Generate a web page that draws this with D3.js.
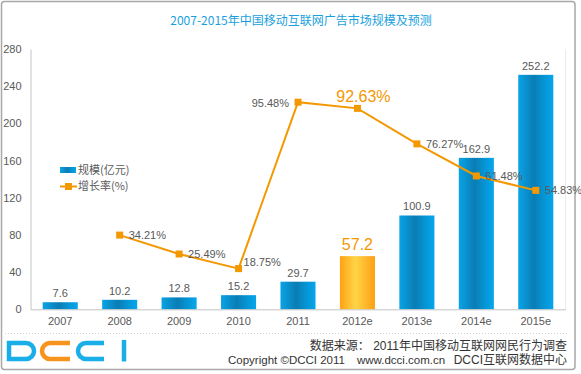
<!DOCTYPE html>
<html><head><meta charset="utf-8">
<script src="https://cdn.jsdelivr.net/npm/d3@7/dist/d3.min.js"></script>
<style>
html,body{margin:0;padding:0;background:#fff;}
svg{display:block;font-family:"Liberation Sans","Noto Sans CJK SC",sans-serif;}
</style></head>
<body>
<svg id="c" width="581" height="374"></svg>
<script>
const categories = ["2007","2008","2009","2010","2011","2012e","2013e","2014e","2015e"];
const scaleValues = [7.6,10.2,12.8,15.2,29.7,57.2,100.9,162.9,252.2];
const growthValues = [null,34.21,25.49,18.75,95.48,92.63,76.27,61.48,54.83];
const yTicks = [0,40,80,120,160,200,240,280];
const highlight = "2012e";
const title = "2007-2015年中国移动互联网广告市场规模及预测";
const legendLabels = ["规模(亿元)","增长率(%)"];

const svg = d3.select("#c");
const grey = "#595959", orange = "#f39800";
const defs = svg.append("defs");
const gb = defs.append("linearGradient").attr("id","gblue").attr("x1","0").attr("x2","1").attr("y1","0").attr("y2","0");
[[0,"#0aa3e6"],[0.45,"#0a7db4"],[0.75,"#0596d6"],[1,"#06a6ec"]].forEach(s=>gb.append("stop").attr("offset",s[0]).attr("stop-color",s[1]));
const go = defs.append("linearGradient").attr("id","gorange").attr("x1","0").attr("x2","1").attr("y1","0").attr("y2","0");
[[0,"#ffa215"],[0.45,"#ffd447"],[1,"#ff9f12"]].forEach(s=>go.append("stop").attr("offset",s[0]).attr("stop-color",s[1]));

// outer frame
svg.append("rect").attr("x",1.5).attr("y",1.5).attr("width",573.5).attr("height",368)
  .attr("rx",3).attr("fill","#fff").attr("stroke","#a8a8a8").attr("stroke-width",1.5);

const x0 = 30.5, x1 = 565.5, yTop = 49, yBot = 309.3;
const x = d3.scaleBand().domain(categories).range([x0,x1]).paddingInner(0.41).paddingOuter(0.205);
const y = d3.scaleLinear().domain([0,280]).range([yBot,yTop]);
const y2 = d3.scaleLinear().domain([0,120]).range([yBot,yTop]);

svg.append("text").attr("x",301).attr("y",24.5).attr("text-anchor","middle")
  .attr("font-size",12).attr("fill","#1a9fde").attr("font-family","'Noto Sans CJK SC','Liberation Sans',sans-serif").text(title);

// right faint border
svg.append("line").attr("x1",x1).attr("x2",x1).attr("y1",yTop).attr("y2",yBot).attr("stroke","#ececec");

// y axis
const yAxis = d3.axisLeft(y).tickValues(yTicks).tickSize(0).tickPadding(9);
const ya = svg.append("g").attr("transform",`translate(${x0},0)`).call(yAxis);
ya.select(".domain").attr("stroke","#c4c4c4");
ya.selectAll("text").attr("fill",grey).attr("font-size",11).attr("font-family","'Liberation Sans',sans-serif");

// bars
svg.append("g").selectAll("rect").data(categories).join("rect")
  .attr("x",d=>x(d)).attr("width",x.bandwidth())
  .attr("y",(d,i)=>y(scaleValues[i])).attr("height",(d,i)=>yBot-y(scaleValues[i]))
  .attr("fill",d=>d===highlight?"url(#gorange)":"url(#gblue)");

// x axis
const xAxis = d3.axisBottom(x).tickSize(0).tickPadding(8);
const xa = svg.append("g").attr("transform",`translate(0,${yBot})`).call(xAxis);
xa.select(".domain").attr("stroke","#c4c4c4");
xa.selectAll("text").attr("fill",grey).attr("font-size",11).attr("font-family","'Liberation Sans',sans-serif");

// bar labels
svg.append("g").selectAll("text").data(categories).join("text")
  .attr("x",d=>x(d)+x.bandwidth()/2)
  .attr("y",(d,i)=>y(scaleValues[i])-(d===highlight?6.5:5))
  .attr("text-anchor","middle")
  .attr("font-size",d=>d===highlight?16:11)
  .attr("fill",d=>d===highlight?orange:grey)
  .text((d,i)=>scaleValues[i].toFixed(1));

// line
const pts = categories.map((c,i)=>({c,v:growthValues[i]})).filter(p=>p.v!==null);
const cx = d=>x(d.c)+x.bandwidth()/2;
svg.append("path").datum(pts).attr("fill","none").attr("stroke",orange).attr("stroke-width",2)
  .attr("d",d3.line().x(cx).y(d=>y2(d.v)));
svg.append("g").selectAll("rect").data(pts).join("rect")
  .attr("x",d=>cx(d)-3.5).attr("y",d=>y2(d.v)-3.5).attr("width",7).attr("height",7).attr("fill",orange);

// growth labels
const place = {"2010":[5,-6,"start"],"2011":[-9,1,"end"],"2012e":[6,-12,"middle"]};
svg.append("g").selectAll("text").data(pts).join("text")
  .attr("x",d=>cx(d)+(place[d.c]?place[d.c][0]:9))
  .attr("y",d=>y2(d.v)+(place[d.c]?place[d.c][1]:0))
  .attr("dy","0.35em")
  .attr("text-anchor",d=>place[d.c]?place[d.c][2]:"start")
  .attr("font-size",d=>d.c===highlight?16:11)
  .attr("fill",d=>d.c===highlight?orange:grey)
  .text(d=>d.v.toFixed(2)+"%");

// legend
const lg = svg.append("g").attr("font-family","'Noto Sans CJK SC','Liberation Sans',sans-serif");
lg.append("rect").attr("x",60).attr("y",167).attr("width",16).attr("height",6).attr("fill","url(#gblue)");
lg.append("text").attr("x",78).attr("y",170).attr("dy","0.35em").attr("font-size",11).attr("fill",grey).text(legendLabels[0]);
lg.append("line").attr("x1",60).attr("x2",77).attr("y1",186.5).attr("y2",186.5).attr("stroke",orange).attr("stroke-width",2);
lg.append("rect").attr("x",65).attr("y",183).attr("width",7).attr("height",7).attr("fill",orange);
lg.append("text").attr("x",78).attr("y",186.5).attr("dy","0.35em").attr("font-size",11).attr("fill",grey).text(legendLabels[1]);

// separator
svg.append("line").attr("x1",5).attr("x2",568).attr("y1",333.5).attr("y2",333.5)
  .attr("stroke","#d0d0d0").attr("stroke-dasharray","1,2");

// DCCI logo
const blue = "#1aaee8", lo = "#f7941d", sw = 4.5;
const logo = svg.append("g").attr("fill","none").attr("stroke-width",sw).attr("stroke-linecap","butt");
logo.append("path").attr("stroke",blue)
  .attr("d","M9,343 H26 a8,8 0 0 1 8,8 V351 a8,8 0 0 1 -8,8 H9 Z");
logo.append("path").attr("stroke",lo)
  .attr("d","M70,343 H50 a8,8 0 0 0 -8,8 V351 a8,8 0 0 0 8,8 H70");
logo.append("path").attr("stroke",blue)
  .attr("d","M104,343 H86 a8,8 0 0 0 -8,8 V351 a8,8 0 0 0 8,8 H104");
logo.append("line").attr("stroke",blue).attr("x1",124).attr("x2",124).attr("y1",340).attr("y2",361.5);

// footer text
const ff = "'Liberation Sans','Noto Sans CJK SC',sans-serif";
svg.append("text").attr("x",567).attr("y",349.5).attr("text-anchor","end").attr("font-size",12)
  .attr("fill","#333").attr("font-family",ff).text("数据来源： 2011年中国移动互联网网民行为调查");
svg.append("text").attr("x",228).attr("y",364).attr("font-size",11.5)
  .attr("fill","#333").attr("font-family",ff).text("Copyright ©DCCI 2011");
svg.append("text").attr("x",357).attr("y",364).attr("font-size",11.5)
  .attr("fill","#333").attr("font-family",ff).text("www.dcci.com.cn");
svg.append("text").attr("x",567).attr("y",364).attr("text-anchor","end").attr("font-size",12)
  .attr("fill","#333").attr("font-family",ff).text("DCCI互联网数据中心");
</script>
</body></html>
